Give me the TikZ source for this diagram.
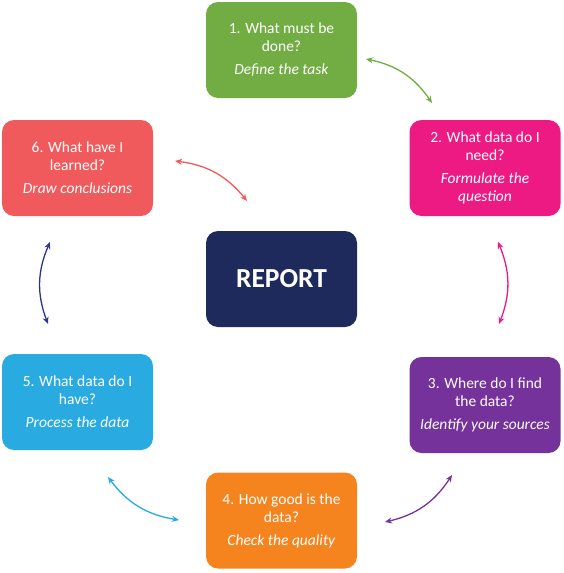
\documentclass[tikz,border=0pt]{standalone}
\usepackage{fontspec}
\setmainfont{Carlito}
\usetikzlibrary{arrows.meta}
\definecolor{cgreen}{HTML}{72AD43}
\definecolor{cmag}{HTML}{EC1A82}
\definecolor{cpurp}{HTML}{74329A}
\definecolor{corange}{HTML}{F5841F}
\definecolor{cblue}{HTML}{29ABE2}
\definecolor{cred}{HTML}{F05A5C}
\definecolor{cnavy}{HTML}{1F2A5C}
\definecolor{carrownavy}{HTML}{2B3590}
\tikzset{
  stepbox/.style={rounded corners=12pt, minimum width=151pt, minimum height=96pt,
    text=white, align=center, font=\fontsize{15.5}{18}\selectfont, inner sep=0pt},
  link/.style={line width=1.3pt, {Stealth[length=7pt,width=6pt]}-{Stealth[length=7pt,width=6pt]}},
}
\begin{document}
\begin{tikzpicture}[x=1pt,y=-1pt]
\useasboundingbox (0,0) rectangle (564,573);
\node[stepbox, fill=cgreen] (s1) at (281.5,50) {1. What must be\\done?\\[5pt]\textit{Define the task}};
\node[stepbox, fill=cmag] (s2) at (485,168) {2. What data do I\\need?\\[5pt]\textit{Formulate the}\\\textit{question}};
\node[stepbox, fill=cpurp] (s3) at (485,405) {3. Where do I find\\the data?\\[5pt]\textit{Identify your sources}};
\node[stepbox, fill=corange] (s4) at (281.5,520.5) {4. How good is the\\data?\\[5pt]\textit{Check the quality}};
\node[stepbox, fill=cblue] (s5) at (77.5,402) {5. What data do I\\have?\\[5pt]\textit{Process the data}};
\node[stepbox, fill=cred] (s6) at (77.5,168) {6. What have I\\learned?\\[5pt]\textit{Draw conclusions}};
\node[stepbox, fill=cnavy, font=\fontsize{27.5}{30}\selectfont\bfseries] (rep) at (281.5,279) {REPORT};

\coordinate (g1) at (366,59);  \coordinate (g2) at (432,103);
\coordinate (m1) at (498,242); \coordinate (m2) at (499,324);
\coordinate (p1) at (452,475); \coordinate (p2) at (385,522);
\coordinate (b1) at (108,477); \coordinate (b2) at (179,520);
\coordinate (n1) at (50,242);  \coordinate (n2) at (48,324);
\coordinate (r1) at (175,161); \coordinate (r2) at (247,201);

\draw[link, cgreen] (g1) to[bend left=22] (g2);
\draw[link, cmag] (m1) to[bend left=22] (m2);
\draw[link, cpurp] (p1) to[bend left=22] (p2);
\draw[link, cblue] (b1) to[bend right=22] (b2);
\draw[link, carrownavy] (n1) to[bend right=22] (n2);
\draw[link, cred] (r1) to[bend left=22] (r2);
\end{tikzpicture}
\end{document}
